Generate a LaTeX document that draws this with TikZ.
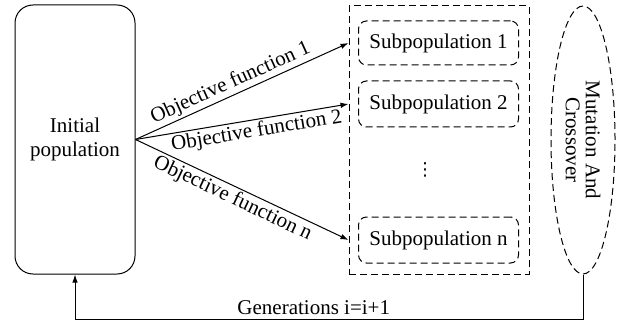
\documentclass[tikz,border=0pt]{standalone}
\usepackage{fontspec}
\setmainfont{Liberation Serif}
\newfontfamily\dotsfont{DejaVu Sans}
\usetikzlibrary{arrows.meta,shapes.geometric}
\begin{document}
\begin{tikzpicture}[x=1pt,y=-1pt,
  font=\fontsize{21}{24}\selectfont,
  line width=1pt,
  dsh/.style={dash pattern=on 7pt off 4pt},
  arr/.style={-{Latex[length=8pt,width=5.5pt]}},
  lbl/.style={sloped, inner sep=2pt},
  subbox/.style={draw, dsh, rounded corners=8pt, minimum width=160pt, inner sep=0pt}]
\useasboundingbox (0,0) rectangle (617,323);
\node[draw, rounded corners=18pt, minimum width=120pt, minimum height=269pt,
      align=center, inner sep=0pt] (init) at (75,139.5) {Initial\\population};
\node[draw, dsh, minimum width=180pt, minimum height=268pt, inner sep=0pt] (outer) at (439,140) {};
\node[subbox, minimum height=44pt] (s1) at (438.5,43) {Subpopulation 1};
\node[subbox, minimum height=46pt] (s2) at (438.5,104) {Subpopulation 2};
\node[subbox, minimum height=46pt] (sn) at (438.5,240) {Subpopulation n};
\node[font=\dotsfont\fontsize{18}{18}\selectfont, inner sep=0pt] (dots) at (425,170) {⋮};
\node[draw, dsh, ellipse, minimum width=64pt, minimum height=268pt, inner sep=0pt] (mut) at (583,140) {};
\node[rotate=-90, align=center, font=\fontsize{21}{20}\selectfont] (mtxt) at (mut.center) {Mutation And\\Crossover};
\draw[arr] (init.east) -- node[lbl, above, pos=0.47] {Objective function 1} (outer.west |- s1);
\draw[arr] (init.east) -- node[lbl, below, pos=0.56] {Objective function 2} (outer.west |- s2);
\draw[arr] (init.east) -- node[lbl, below, pos=0.48] {Objective function n} (outer.west |- sn);
\coordinate (c1) at (mut.south |- 0,319);
\coordinate (c2) at (init.south |- 0,319);
\draw[arr] (mut.south) -- (c1) -- node[above=4pt, pos=0.53, inner sep=0pt] {Generations i=i+1} (c2) -- (init.south);
\end{tikzpicture}
\end{document}
